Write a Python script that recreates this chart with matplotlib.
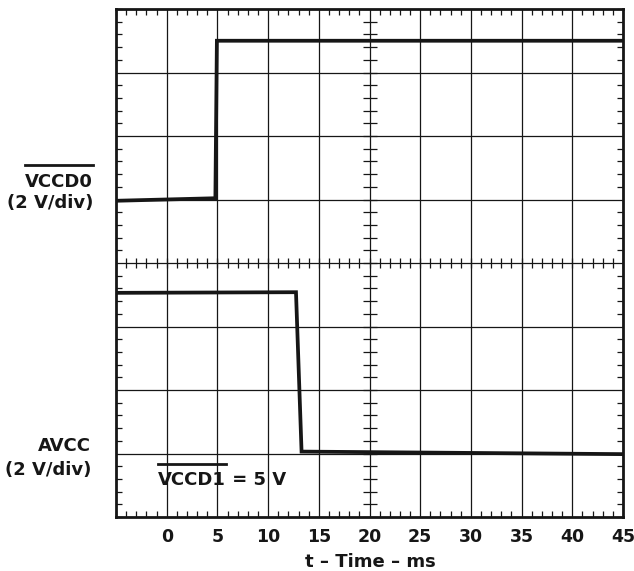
import numpy as np
import matplotlib.pyplot as plt
from matplotlib.lines import Line2D

plt.rcParams['font.family'] = ['DejaVu Sans']
plt.rcParams['font.weight'] = 'bold'

# traces: time in ms, level in screen divisions (0 = bottom of screen)
vccd0_t = [-5, 4.8, 4.95, 45]
vccd0_v = [4.98, 5.02, 7.5, 7.5]
avcc_t = [-5, 12.75, 13.3, 45]
avcc_v = [3.53, 3.54, 1.03, 0.99]

x_ticks = [0, 5, 10, 15, 20, 25, 30, 35, 40, 45]
x_labels = ['0', '5', '10', '15', '20', '25', '30', '35', '40', '45']
y_grid = [1, 2, 3, 4, 5, 6, 7]

W, H = 634, 571
ink = '#161616'
fs = 13
fs_tick = 12.5


def px(x, y):
    # image pixel (from top-left) -> figure fraction
    return x / W, 1 - y / H


fig = plt.figure(figsize=(W / 100, H / 100), dpi=100)
fig.patch.set_facecolor('white')

ax = fig.add_axes([116 / W, 1 - 517 / H, 507 / W, 508 / H])
ax.set_xlim(-5, 45)
ax.set_ylim(0, 8)

ax.set_xticks(x_ticks)
ax.set_xticklabels(x_labels)
ax.set_yticks(y_grid)
ax.set_yticklabels([])
ax.set_xticks(np.arange(-5, 45.5, 1), minor=True)
ax.set_yticks(np.arange(0, 8.01, 0.2), minor=True)
ax.grid(True, which='major', color=ink, lw=0.9)
ax.tick_params(which='major', length=0, pad=7.9, labelsize=fs_tick, labelcolor=ink)
ax.tick_params(which='minor', direction='in', length=4.5, width=0.9, color=ink,
               top=True, bottom=True, left=True, right=True)
for sp in ax.spines.values():
    sp.set_linewidth(2.0)
    sp.set_color(ink)

# ticks on the centre cross
ym = np.arange(0, 8.01, 0.2)
xm = np.arange(-5, 45.5, 1)
ax.plot(np.full(len(ym), 20), ym, ls='none', marker='_', ms=10, mew=0.9, color=ink)
ax.plot(xm, np.full(len(xm), 4), ls='none', marker='|', ms=7, mew=0.9, color=ink)

ax.plot(vccd0_t, vccd0_v, color=ink, lw=2.7, solid_joinstyle='miter')
ax.plot(avcc_t, avcc_v, color=ink, lw=2.7, solid_joinstyle='miter')

# labels
t_vccd0 = fig.text(*px(93, 187), 'VCCD0', ha='right', va='baseline', fontsize=fs, color=ink)
fig.text(*px(93, 208), '(2 V/div)', ha='right', va='baseline', fontsize=fs, color=ink)
fig.text(*px(91, 451), 'AVCC', ha='right', va='baseline', fontsize=fs, color=ink)
fig.text(*px(91, 475), '(2 V/div)', ha='right', va='baseline', fontsize=fs, color=ink)
t_vccd1 = fig.text(*px(158, 485), 'VCCD1', ha='left', va='baseline', fontsize=fs, color=ink)
fig.text(*px(370, 567), 't \u2013 Time \u2013 ms', ha='center', va='baseline', fontsize=fs, color=ink)

fig.canvas.draw()
r = fig.canvas.get_renderer()
bb0 = t_vccd0.get_window_extent(r)
bb1 = t_vccd1.get_window_extent(r)
fig.text(bb1.x1 / W, 1 - 485 / H, ' = 5 V', ha='left', va='baseline', fontsize=fs, color=ink)
for bb, yy in [(bb0, 164.5), (bb1, 463.5)]:
    fig.add_artist(Line2D([bb.x0 / W, bb.x1 / W], [1 - yy / H, 1 - yy / H],
                          transform=fig.transFigure, color=ink, lw=2.0))

fig.savefig('out.png', dpi=100)
